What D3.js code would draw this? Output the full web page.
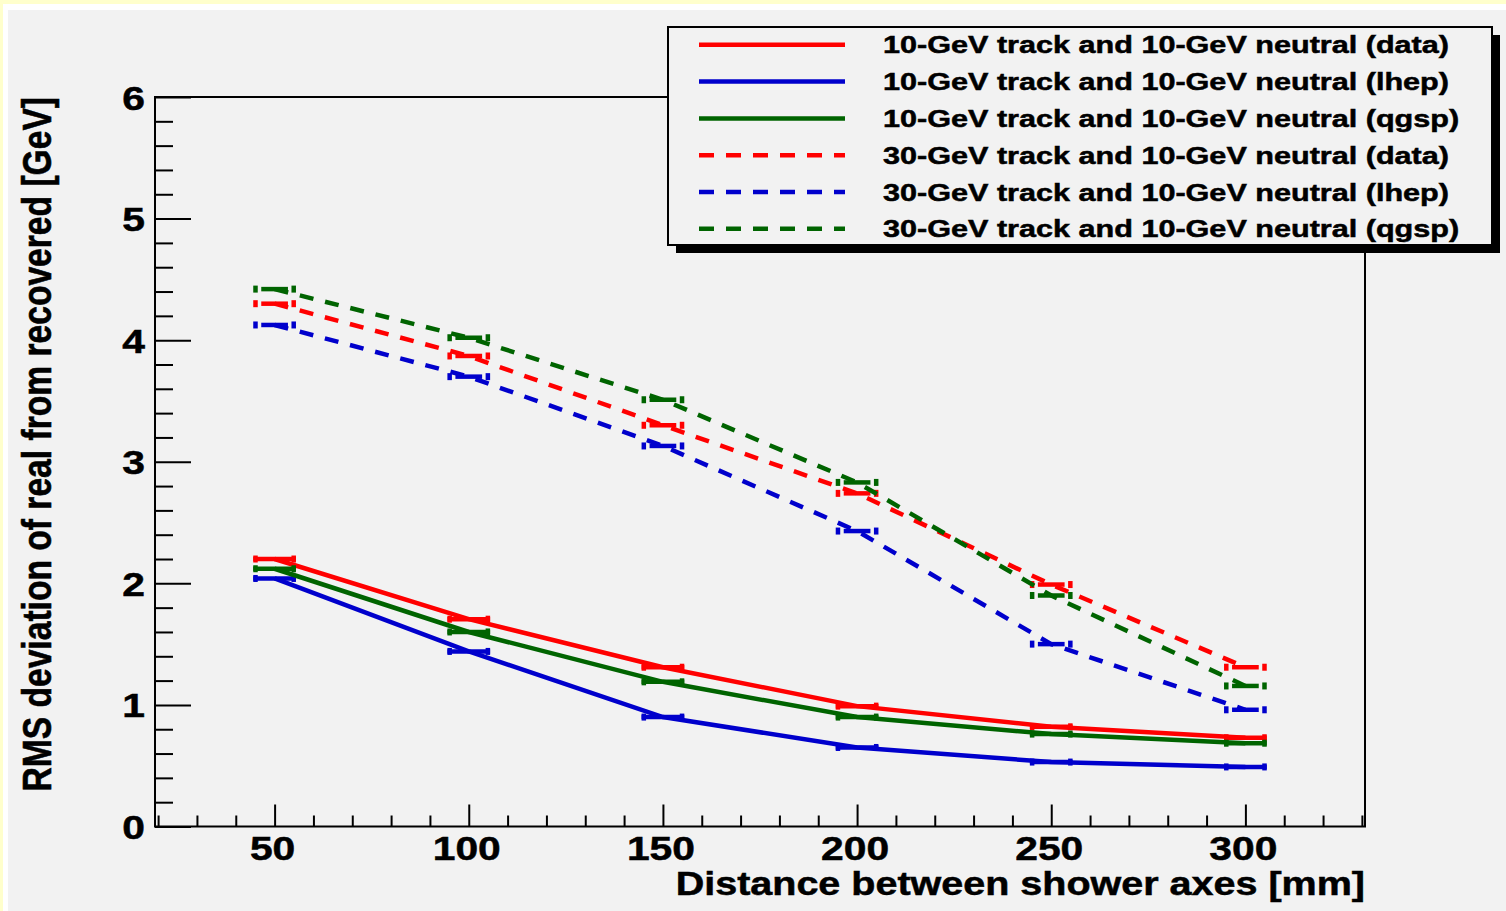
<!DOCTYPE html>
<html>
<head>
<meta charset="utf-8">
<script src="https://cdn.jsdelivr.net/npm/d3@7"></script>
<style>
  html, body { margin: 0; padding: 0; background: #ffffcc; }
  svg { display: block; }
  text { font-family: "Liberation Sans", Arial, Helvetica, sans-serif; font-weight: bold; fill: #000; stroke: #000; stroke-width: 0.5; }
</style>
</head>
<body>
<script>
// ---------- data ----------
const distances = [50, 100, 150, 200, 250, 300];
const rms10Data = [2.20, 1.705, 1.31, 0.99, 0.82, 0.73];
const rms10Lhep = [2.04, 1.44, 0.90, 0.65, 0.53, 0.49];
const rms10Qgsp = [2.12, 1.60, 1.19, 0.90, 0.76, 0.685];
const rms30Data = [4.30, 3.87, 3.30, 2.74, 1.99, 1.31];
const rms30Lhep = [4.125, 3.70, 3.13, 2.43, 1.50, 0.96];
const rms30Qgsp = [4.42, 4.02, 3.51, 2.83, 1.90, 1.156];
const distanceError = 5.5;
const seriesLabels = [
  "10-GeV track and 10-GeV neutral (data)",
  "10-GeV track and 10-GeV neutral (lhep)",
  "10-GeV track and 10-GeV neutral (qgsp)",
  "30-GeV track and 10-GeV neutral (data)",
  "30-GeV track and 10-GeV neutral (lhep)",
  "30-GeV track and 10-GeV neutral (qgsp)"
];
const seriesColors = ["#ff0000", "#0000cc", "#006400", "#ff0000", "#0000cc", "#006400"];
const seriesDashed = [false, false, false, true, true, true];
const yMajorTicks = [0, 1, 2, 3, 4, 5, 6];
const xMajorTicks = [50, 100, 150, 200, 250, 300];
const xTitle = "Distance between shower axes [mm]";
const yTitle = "RMS deviation of real from recovered [GeV]";

const seriesValues = [rms10Data, rms10Lhep, rms10Qgsp, rms30Data, rms30Lhep, rms30Qgsp];

// ---------- layout ----------
const W = 1506, H = 911;
const L = 155, R = 1365, T = 97, B = 826.5;
const SX = 1.2; // horizontal stretch of glyphs

const svg = d3.select("body").append("svg").attr("width", W).attr("height", H);
svg.append("rect").attr("x", 0).attr("y", 0).attr("width", W).attr("height", H).attr("fill", "#ffffcc");
svg.append("rect").attr("x", 3).attr("y", 4).attr("width", W).attr("height", H).attr("fill", "#ffffff");
svg.append("rect").attr("x", 8).attr("y", 10).attr("width", W).attr("height", H).attr("fill", "#f2f2f2");

const x = d3.scaleLinear().domain([19.2, 330.8]).range([L, R]);
const y = d3.scaleLinear().domain([0, 6]).range([B, T]);

function stretchedText(g, tx, ty, str, size, anchor, sx) {
  return g.append("text")
    .attr("transform", `translate(${tx},${ty}) scale(${sx},1)`)
    .attr("text-anchor", anchor)
    .attr("font-size", size)
    .text(str);
}

// ---------- axes ----------
const axesG = svg.append("g");
const yMinor = d3.range(0, 6.0001, 0.2).filter(v => Math.abs(v - Math.round(v)) > 1e-6);
axesG.append("g").attr("transform", `translate(${L},0)`)
  .call(d3.axisRight(y).tickValues(yMinor).tickSize(18).tickFormat(""))
  .call(g => g.select(".domain").remove())
  .call(g => g.selectAll("line").attr("stroke", "#000").attr("stroke-width", 2));
axesG.append("g").attr("transform", `translate(${L},0)`)
  .call(d3.axisRight(y).tickValues(yMajorTicks).tickSize(36).tickFormat(""))
  .call(g => g.select(".domain").remove())
  .call(g => g.selectAll("line").attr("stroke", "#000").attr("stroke-width", 2));
const xMinor = d3.range(20, 331, 10).filter(v => v % 50 !== 0);
axesG.append("g").attr("transform", `translate(0,${B})`)
  .call(d3.axisTop(x).tickValues(xMinor).tickSize(11).tickFormat(""))
  .call(g => g.select(".domain").remove())
  .call(g => g.selectAll("line").attr("stroke", "#000").attr("stroke-width", 2));
axesG.append("g").attr("transform", `translate(0,${B})`)
  .call(d3.axisTop(x).tickValues(xMajorTicks).tickSize(22).tickFormat(""))
  .call(g => g.select(".domain").remove())
  .call(g => g.selectAll("line").attr("stroke", "#000").attr("stroke-width", 2));

axesG.append("rect").attr("x", L).attr("y", T).attr("width", R - L).attr("height", B - T)
  .attr("fill", "none").attr("stroke", "#000").attr("stroke-width", 2);

yMajorTicks.forEach(v => stretchedText(axesG, 145, y(v) + 12.5, String(v), 34, "end", SX));
xMajorTicks.forEach(v => stretchedText(axesG, x(v) - 2, 860, String(v), 34, "middle", SX));

stretchedText(axesG, R, 895, xTitle, 33.2, "end", 1.19);
axesG.append("text")
  .attr("transform", `translate(51,${T}) scale(${SX},1) rotate(-90)`)
  .attr("text-anchor", "end")
  .attr("font-size", 33.6)
  .text(yTitle);

// ---------- series ----------
const line = d3.line().x(d => x(d[0])).y(d => y(d[1]));
const plotG = svg.append("g");
seriesValues.forEach((vals, i) => {
  const pts = distances.map((d, j) => [d, vals[j]]);
  const col = seriesColors[i];
  const dashed = seriesDashed[i];
  plotG.append("path").datum(pts).attr("d", line)
    .attr("fill", "none").attr("stroke", col).attr("stroke-width", 4.5)
    .attr("stroke-dasharray", dashed ? "14 12" : null);
  pts.forEach(p => {
    const x0 = x(p[0] - distanceError), x1 = x(p[0] + distanceError), yy = y(p[1]);
    const inset = dashed ? 8 : 0;
    plotG.append("line").attr("x1", x0 + inset).attr("x2", x1 - inset).attr("y1", yy).attr("y2", yy)
      .attr("stroke", col).attr("stroke-width", 4.5);
    [x0, x1].forEach(xe => {
      plotG.append("rect").attr("x", xe - (xe === x0 ? 0 : 4.5)).attr("y", yy - 3.5)
        .attr("width", 4.5).attr("height", 7).attr("fill", col);
    });
  });
});

// ---------- legend ----------
const lg = svg.append("g");
const LX0 = 668, LY0 = 27, LX1 = 1492, LY1 = 245;
lg.append("rect").attr("x", LX0 + 8).attr("y", LY0 + 8).attr("width", LX1 - LX0).attr("height", LY1 - LY0).attr("fill", "#000");
lg.append("rect").attr("x", LX0).attr("y", LY0).attr("width", LX1 - LX0).attr("height", LY1 - LY0)
  .attr("fill", "#f2f2f2").attr("stroke", "#000").attr("stroke-width", 2);
seriesLabels.forEach((lab, i) => {
  const cy = 44.8 + i * 36.8;
  lg.append("line").attr("x1", 699).attr("x2", 845).attr("y1", cy).attr("y2", cy)
    .attr("stroke", seriesColors[i]).attr("stroke-width", 4.5)
    .attr("stroke-dasharray", seriesDashed[i] ? "15 12" : null);
  stretchedText(lg, 883, cy + 8.5, lab, 24, "start", 1.275);
});
</script>
</body>
</html>
